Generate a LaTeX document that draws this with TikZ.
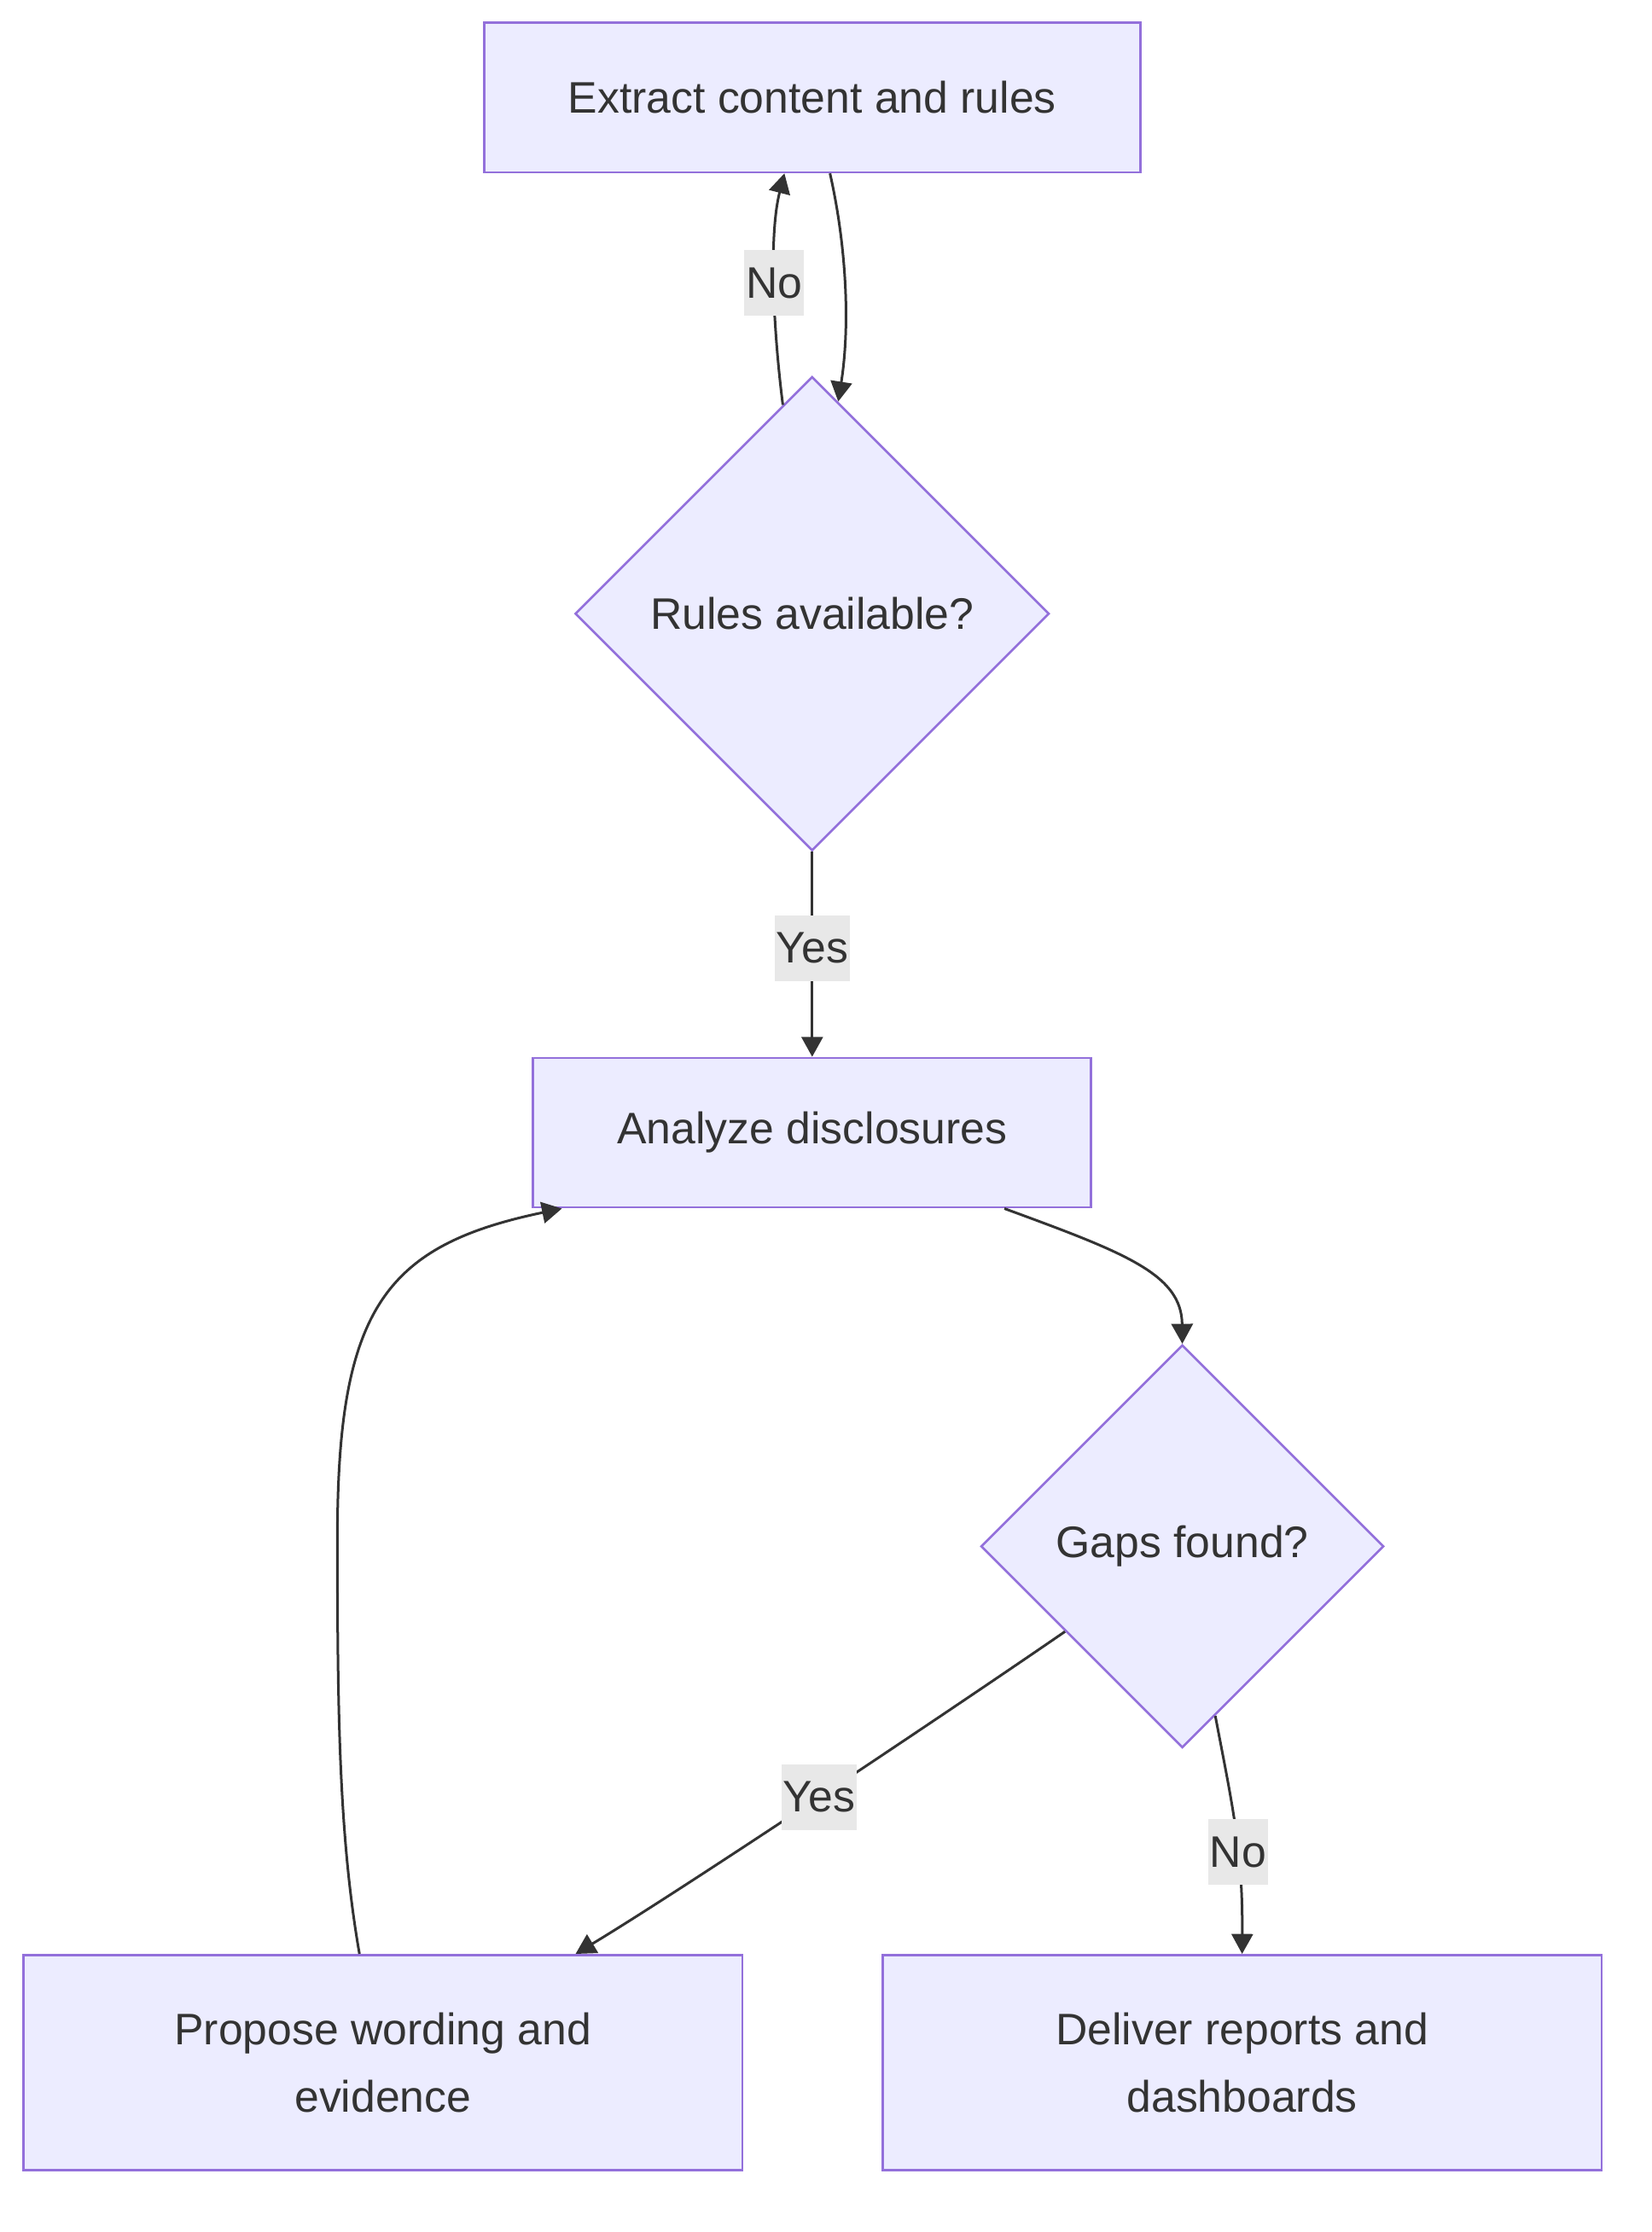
\documentclass[tikz,border=0pt]{standalone}
\usepackage{fontspec}
\setmainfont{Liberation Sans}
\usetikzlibrary{shapes.geometric,arrows.meta,positioning}
\definecolor{ChartFill}{HTML}{ECECFF}
\definecolor{ChartStroke}{HTML}{9370DB}
\definecolor{ChartText}{HTML}{333333}
\definecolor{ChartLabel}{HTML}{E8E8E8}
\tikzset{
  process/.style={rectangle,draw=ChartStroke,fill=ChartFill,line width=0.8pt,minimum height=52.5pt,align=center,text=ChartText,font=\fontsize{15.5}{23.5}\selectfont},
  decision/.style={diamond,aspect=1,draw=ChartStroke,fill=ChartFill,line width=0.8pt,inner sep=0pt,align=center,text=ChartText,font=\fontsize{15.5}{23.5}\selectfont},
  arrow/.style={-{Triangle[length=7pt,width=7.5pt]},line width=0.9pt,color=ChartText},
  lbl/.style={fill=ChartLabel,text=ChartText,inner xsep=0.5pt,inner ysep=0pt,minimum height=23pt,font=\fontsize{15.5}{23.5}\selectfont},
}
\begin{document}
\begin{tikzpicture}[x=0.5pt,y=-0.5pt]
  \useasboundingbox (0,0) rectangle (1160,1568);
  % ── Rule check ──
  \node[process, minimum width=230.5pt] (extract) at (570.5,68.5) {Extract content and rules};
  \node[decision, minimum width=166.5pt, minimum height=166.5pt, below=71pt of extract] (rules) {Rules available?};

  % ── Analysis ──
  \node[process, minimum width=196pt, below=72pt of rules] (analyze) {Analyze disclosures};
  \node[decision, minimum width=141.5pt, minimum height=141.5pt, below=47.5pt of analyze, xshift=130pt] (gaps) {Gaps found?};

  % ── Outcomes ──
  \node[process, minimum width=252.5pt, minimum height=75.5pt, below=72pt of gaps, xshift=-280.75pt] (propose) {Propose wording and\\evidence};
  \node[process, minimum width=252.5pt, minimum height=75.5pt, below=72pt of gaps, xshift=21pt] (deliver) {Deliver reports and\\dashboards};

  % ── Arrows ──
  \draw[arrow] ([xshift=6.25pt]extract.south) .. controls (595,175) and (597,230) .. (rules.83);
  \draw[arrow] (rules.98) .. controls (543,230) and (540,165) .. node[lbl]{No} ([xshift=-9.75pt]extract.south);
  \draw[arrow] (rules.south) -- node[lbl,pos=0.47]{Yes} (analyze.north);
  \draw[arrow] ([xshift=67.5pt]analyze.south) .. controls (790,880) and (830,895) .. (gaps.north);
  \draw[arrow] (gaps.216) .. controls (670,1200) and (480,1327) .. node[lbl]{Yes} ([xshift=-59pt]propose.north east);
  \draw[arrow] (gaps.-79) .. controls (866,1270) and (873,1300) .. node[lbl,pos=0.6]{No} (deliver.north);
  \draw[arrow] ([xshift=-8.25pt]propose.north) .. controls (238,1290) and (237,1200) .. (237,1080) .. controls (237,920) and (270,875) .. ([xshift=10.5pt]analyze.south west);
\end{tikzpicture}
\end{document}
